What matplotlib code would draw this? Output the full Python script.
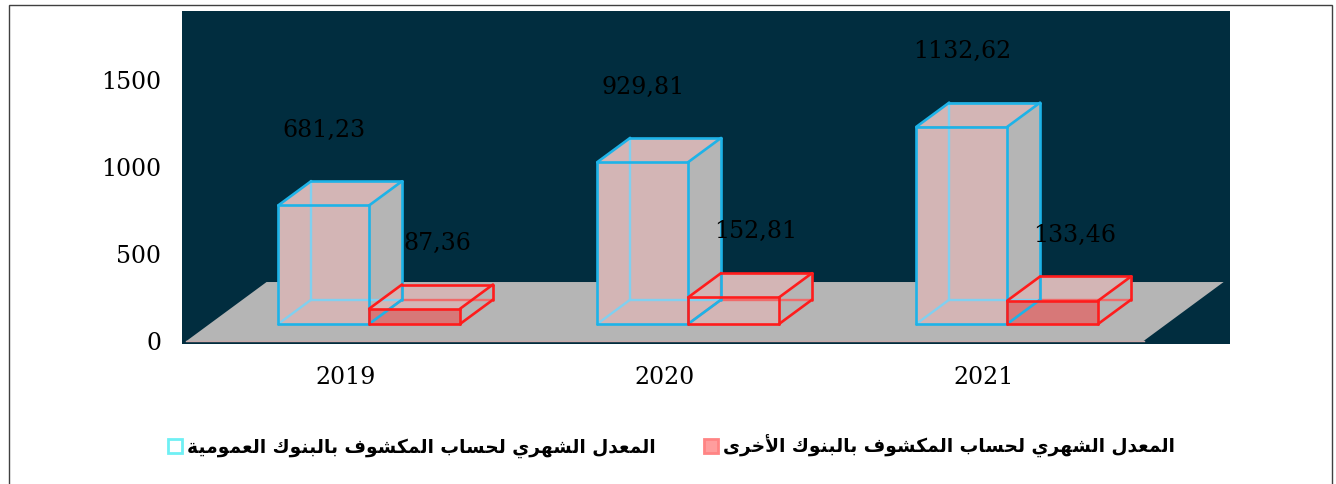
import matplotlib
matplotlib.use("Agg")
import matplotlib.pyplot as plt
from matplotlib.patches import Polygon, Rectangle, Patch

# ── data ──
years = ["2019", "2020", "2021"]
public_banks = [681.23, 929.81, 1132.62]
other_banks = [87.36, 152.81, 133.46]
y_ticks = [0, 500, 1000, 1500]
series_names = [
    "المعدل الشهري لحساب المكشوف بالبنوك العمومية",
    "المعدل الشهري لحساب المكشوف بالبنوك الأخرى",
]

# ── look ──
BG_DARK   = "#012d3f"
FLOOR     = "#b5b5b5"
PINK      = "#d3b5b5"
BLUE_EDGE = "#1db3e8"
BLUE_GHOST = "#80d0f0"
RED_EDGE  = "#ff1c1c"
RED_GHOST = "#f06a6a"
RED_FRONT = ["#d77878", PINK, "#d77878"]

BAR_W   = 0.285      # width of one bar in category units
DEPTH_X = 0.251      # oblique shift of the full floor depth
DEPTH_Y = 339.0
FRONT, BACK = 0.29, 0.70   # bar front / back planes as fraction of floor depth

SERIF = "DejaVu Serif"


# Arabic presentation forms: (isolated, final, initial, medial)
_FORMS = {
    "ا": (0xFE8D, 0xFE8E, None, None),
    "أ": (0xFE83, 0xFE84, None, None),
    "ب": (0xFE8F, 0xFE90, 0xFE91, 0xFE92),
    "ة": (0xFE93, 0xFE94, None, None),
    "ح": (0xFEA1, 0xFEA2, 0xFEA3, 0xFEA4),
    "خ": (0xFEA5, 0xFEA6, 0xFEA7, 0xFEA8),
    "د": (0xFEA9, 0xFEAA, None, None),
    "ر": (0xFEAD, 0xFEAE, None, None),
    "س": (0xFEB1, 0xFEB2, 0xFEB3, 0xFEB4),
    "ش": (0xFEB5, 0xFEB6, 0xFEB7, 0xFEB8),
    "ع": (0xFEC9, 0xFECA, 0xFECB, 0xFECC),
    "ف": (0xFED1, 0xFED2, 0xFED3, 0xFED4),
    "ك": (0xFED9, 0xFEDA, 0xFEDB, 0xFEDC),
    "ل": (0xFEDD, 0xFEDE, 0xFEDF, 0xFEE0),
    "م": (0xFEE1, 0xFEE2, 0xFEE3, 0xFEE4),
    "ن": (0xFEE5, 0xFEE6, 0xFEE7, 0xFEE8),
    "ه": (0xFEE9, 0xFEEA, 0xFEEB, 0xFEEC),
    "و": (0xFEED, 0xFEEE, None, None),
    "ى": (0xFEEF, 0xFEF0, None, None),
    "ي": (0xFEF1, 0xFEF2, 0xFEF3, 0xFEF4),
}
_LAM_ALEF = {"ا": (0xFEFB, 0xFEFC, None, None), "أ": (0xFEF7, 0xFEF8, None, None)}


def shape_arabic(text):
    """Join letters and put them in visual (left-to-right) order."""
    words = []
    for word in text.split(" "):
        tokens = []
        i = 0
        while i < len(word):
            ch = word[i]
            if ch == "ل" and i + 1 < len(word) and word[i + 1] in _LAM_ALEF:
                tokens.append(_LAM_ALEF[word[i + 1]])
                i += 2
            else:
                tokens.append(_FORMS[ch])
                i += 1
        out = []
        for k, f in enumerate(tokens):
            prev = k > 0 and tokens[k - 1][2] is not None
            nxt = f[2] is not None and k < len(tokens) - 1
            if prev and nxt:
                cp = f[3]
            elif nxt:
                cp = f[2]
            elif prev:
                cp = f[1]
            else:
                cp = f[0]
            out.append(chr(cp))
        words.append("".join(out))
    return " ".join(words)[::-1]


def draw_box(ax, x0, x1, h, edge, ghost, front_fc):
    fx, fy = FRONT * DEPTH_X, FRONT * DEPTH_Y
    bx, by = BACK * DEPTH_X, BACK * DEPTH_Y
    F = [(x0 + fx, fy), (x1 + fx, fy), (x1 + fx, fy + h), (x0 + fx, fy + h)]
    B = [(x0 + bx, by), (x1 + bx, by), (x1 + bx, by + h), (x0 + bx, by + h)]

    ax.add_patch(Polygon([F[1], B[1], B[2], F[2]], closed=True, fc=FLOOR, ec="none", zorder=3))
    ax.add_patch(Polygon([F[3], F[2], B[2], B[3]], closed=True, fc=PINK, ec="none", zorder=3))
    ax.add_patch(Polygon(F, closed=True, fc=front_fc, ec="none", zorder=3))

    # edges hidden behind the faces, drawn faintly
    for a, b in [(B[0], B[3]), (B[0], B[1]), (F[0], B[0])]:
        ax.plot([a[0], b[0]], [a[1], b[1]], color=ghost, lw=1.7, zorder=4,
                solid_capstyle="round")
    # visible edges
    for a, b in [(F[0], F[1]), (F[1], F[2]), (F[2], F[3]), (F[3], F[0]),
                 (F[3], B[3]), (F[2], B[2]), (B[3], B[2]), (B[2], B[1]),
                 (F[1], B[1])]:
        ax.plot([a[0], b[0]], [a[1], b[1]], color=edge, lw=1.9, zorder=5,
                solid_capstyle="round")


fig = plt.figure(figsize=(13.36, 4.84), dpi=100)
W, H = 1336.0, 484.0

# outer chart border
fig.patches.append(Rectangle((9 / W, -0.01), 1323 / W, 1 - 5 / H + 0.01,
                             transform=fig.transFigure, fill=False,
                             ec="#404040", lw=1.0))

ax = fig.add_axes([182 / W, (H - 344) / H, (1230 - 182) / W, (344 - 11) / H])
ax.set_facecolor(BG_DARK)
ax.set_xlim(-0.514, 2.771)
ax.set_ylim(-17.2, 1896.6)
for s in ax.spines.values():
    s.set_visible(False)

# floor
n = len(years)
ax.add_patch(Polygon([(-0.5, 0), (n - 0.5, 0), (n - 0.5 + DEPTH_X, DEPTH_Y),
                      (-0.5 + DEPTH_X, DEPTH_Y)], closed=True, fc=FLOOR,
                     ec="none", zorder=1))
ax.plot([-0.5, n - 0.5], [0, 0], color="#c9aaaa", lw=1.0, zorder=2)

for i in range(n):
    draw_box(ax, i - BAR_W, i, public_banks[i], BLUE_EDGE, BLUE_GHOST, PINK)
    draw_box(ax, i, i + BAR_W, other_banks[i], RED_EDGE, RED_GHOST, RED_FRONT[i])

    fx = FRONT * DEPTH_X
    ax.text(i - BAR_W / 2 + fx, public_banks[i] + 530,
            f"{public_banks[i]:.2f}".replace(".", ","), ha="center",
            va="center", fontsize=17, family=SERIF, color="black", zorder=6)
    ax.text(i + BAR_W / 2 + fx + 0.07, other_banks[i] + 475,
            f"{other_banks[i]:.2f}".replace(".", ","), ha="center",
            va="center", fontsize=17, family=SERIF, color="black", zorder=6)

ax.set_yticks(y_ticks)
ax.set_yticklabels([str(t) for t in y_ticks], family=SERIF, fontsize=17)
ax.set_xticks(range(n))
ax.set_xticklabels(years, family=SERIF, fontsize=17)
ax.tick_params(axis="y", length=0, pad=15)
ax.tick_params(axis="x", length=0, pad=16)

handles = [
    Patch(facecolor="white", edgecolor="#6ff0f4", lw=2.0),
    Patch(facecolor="#ff9d9d", edgecolor="#ff8484", lw=2.0),
]
fig.legend(handles, [shape_arabic(s) for s in series_names], ncol=2,
           loc="center", bbox_to_anchor=(0.5026, (H - 446) / H),
           frameon=False, handlelength=0.75, handleheight=0.75,
           handletextpad=0.25, columnspacing=2.6,
           prop={"family": "DejaVu Sans", "size": 13.4, "weight": "bold"})

fig.savefig("out.png", dpi=100)
